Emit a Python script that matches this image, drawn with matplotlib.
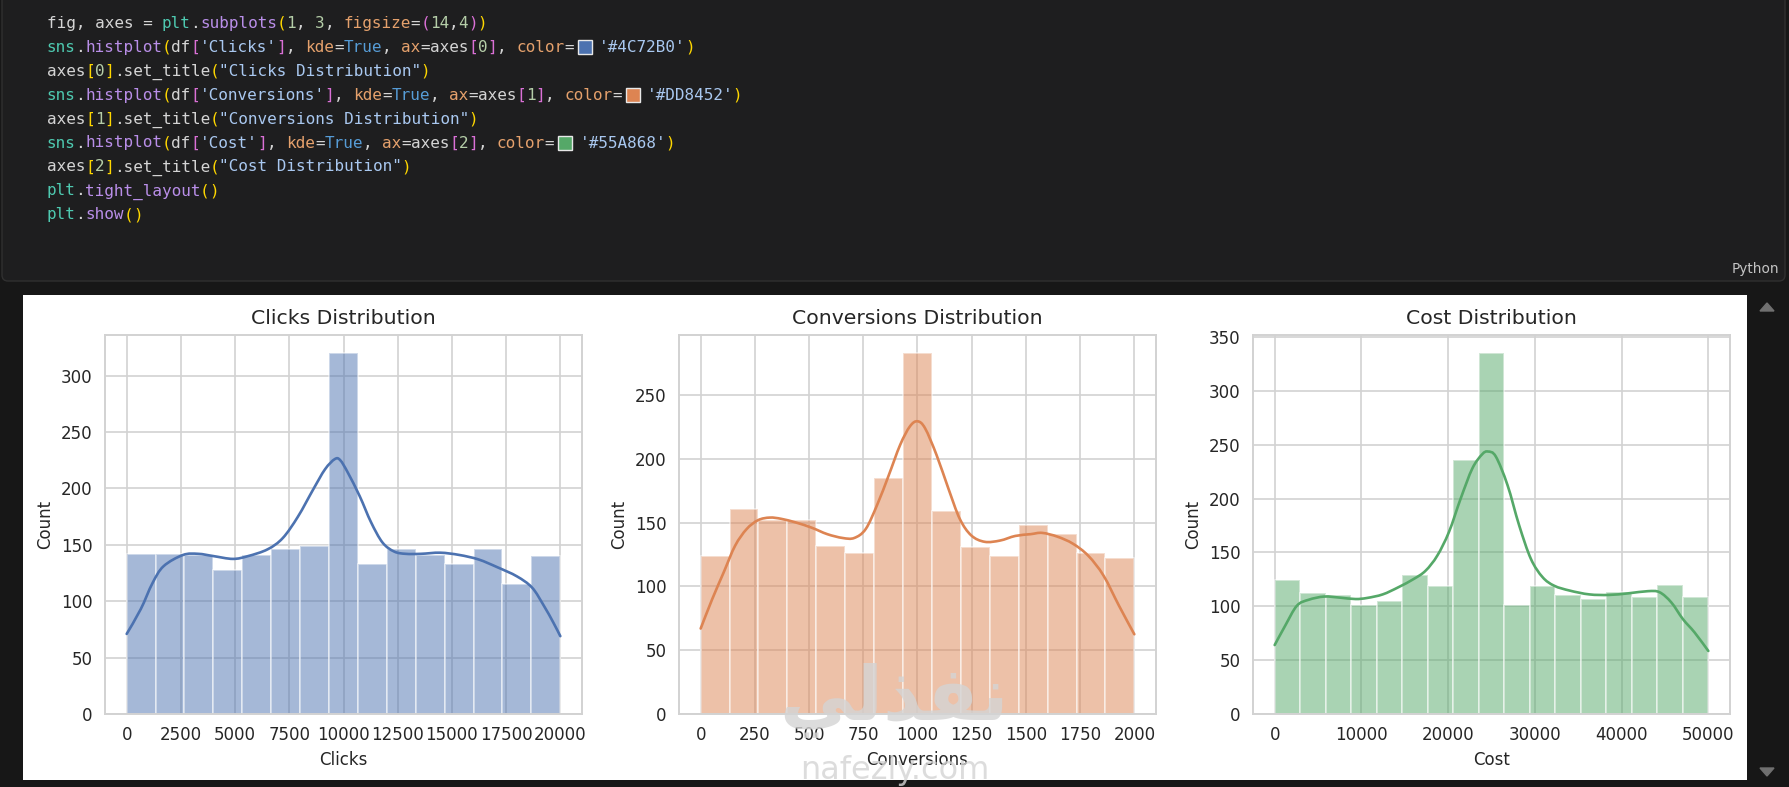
import numpy as np
import matplotlib.pyplot as plt
import matplotlib.patches as mpatches
from matplotlib.path import Path
import seaborn as sns

# ---- dados ----
clicks_range = (0, 20000)
clicks_counts = [142, 142, 141, 128, 141, 146, 149, 320, 133, 146, 141, 133, 146, 115, 140]
clicks_kde_x = [0, 650, 1190, 1700, 2600, 3300, 4000, 4900, 5600, 6500, 7200, 7900, 8600, 9150,
                9600, 9850, 10200, 10750, 11270, 11800, 12340, 12870, 13570, 14460, 15340, 16230,
                17110, 18000, 18700, 19240, 19680, 20000]
clicks_kde_y = [71, 93, 116, 131, 141, 142, 140, 137.5, 140, 146, 156, 175, 199, 217,
                226, 225, 214, 193, 170, 152, 144, 142, 142, 143, 141, 137,
                130, 122, 112, 96, 81, 69]
clicks_xticks = [0, 2500, 5000, 7500, 10000, 12500, 15000, 17500, 20000]
clicks_yticks = [0, 50, 100, 150, 200, 250, 300]

conv_range = (0, 2000)
conv_counts = [124, 161, 152, 152, 132, 126, 185, 283, 159, 131, 124, 148, 141, 126, 122]
conv_kde_x = [0, 53, 106, 159, 212, 265, 319, 372, 442, 513, 584, 655, 708, 761, 814, 867, 920,
              965, 1000, 1035, 1088, 1142, 1195, 1248, 1310, 1381, 1451, 1522, 1575, 1646, 1717,
              1788, 1858, 1929, 2000]
conv_kde_y = [67, 90, 111, 132, 145, 152, 154, 153, 150, 146, 141, 138, 138, 145, 164, 187, 211,
              225.5, 229.5, 224, 203, 177, 153, 140, 135, 136, 139.6, 141, 142, 139, 133.5,
              124, 108.5, 85, 62.5]
conv_xticks = [0, 250, 500, 750, 1000, 1250, 1500, 1750, 2000]
conv_yticks = [0, 50, 100, 150, 200, 250]

cost_range = (0, 50000)
cost_counts = [124, 112, 110, 101, 105, 129, 119, 236, 335, 101, 119, 110, 107, 113, 109, 120, 109]
cost_kde_x = [0, 1214, 2563, 3912, 5710, 7509, 9307, 10656, 12455, 14253, 16052, 17401, 18750,
              20099, 21448, 22797, 23921, 24595, 25494, 26843, 28192, 29541, 30890, 32239, 34038,
              36286, 38534, 40782, 43030, 44380, 45728, 47077, 48426, 50000]
cost_kde_y = [64, 82, 100.5, 106, 109, 108, 106.7, 107.7, 111, 117.6, 125.4, 133, 147,
              169, 200, 228, 241, 243.6, 239, 212.5, 175, 144, 127, 119, 114.5,
              111, 110.5, 112, 114, 113, 103.6, 88, 75.6, 58.5]
cost_xticks = [0, 10000, 20000, 30000, 40000, 50000]
cost_yticks = [0, 50, 100, 150, 200, 250, 300, 350]

titles = ["Clicks Distribution", "Conversions Distribution", "Cost Distribution"]
xlabels = ["Clicks", "Conversions", "Cost"]
cores = ['#4C72B0', '#DD8452', '#55A868']

# ---- cores do editor ----
VAR = '#d4d4d4'
MOD = '#4ec9b0'
FUNC = '#b98ee8'
NUM = '#b5cea8'
KW = '#e5a16c'
BOOL = '#569cd6'
STR = '#a9c8f0'
Y1 = '#ffd700'
P2 = '#da70d6'

codigo = [
    [("fig, axes = ", VAR), ("plt", MOD), (".", VAR), ("subplots", FUNC), ("(", Y1), ("1", NUM),
     (", ", VAR), ("3", NUM), (", ", VAR), ("figsize", KW), ("=", VAR), ("(", P2), ("14", NUM),
     (",", VAR), ("4", NUM), (")", P2), (")", Y1)],
]
for i, (col, tit) in enumerate(zip(xlabels, titles)):
    codigo.append([("sns", MOD), (".", VAR), ("histplot", FUNC), ("(", Y1), ("df", VAR), ("[", P2),
                   ("'" + col + "'", STR), ("]", P2), (", ", VAR), ("kde", KW), ("=", VAR),
                   ("True", BOOL), (", ", VAR), ("ax", KW), ("=", VAR), ("axes", VAR), ("[", P2),
                   (str(i), NUM), ("]", P2), (", ", VAR), ("color", KW), ("=", VAR),
                   ("#SWATCH", cores[i]), ("'" + cores[i] + "'", STR), (")", Y1)])
    codigo.append([("axes", VAR), ("[", Y1), (str(i), NUM), ("]", Y1), (".set_title", VAR),
                   ("(", Y1), ('"' + tit + '"', STR), (")", Y1)])
codigo.append([("plt", MOD), (".", VAR), ("tight_layout", FUNC), ("(", Y1), (")", Y1)])
codigo.append([("plt", MOD), (".", VAR), ("show", FUNC), ("(", Y1), (")", Y1)])


def curva_suave(xs, ys):
    # caminho bezier (catmull-rom) passando pelos pontos lidos
    p = np.column_stack([xs, ys]).astype(float)
    verts = [p[0]]
    codes = [Path.MOVETO]
    n = len(p)
    for k in range(n - 1):
        a = p[max(k - 1, 0)]
        b = p[k]
        c = p[k + 1]
        d = p[min(k + 2, n - 1)]
        verts += [b + (c - a) / 6, c - (d - b) / 6, c]
        codes += [Path.CURVE4] * 3
    return Path(verts, codes)


W, H = 1790, 787
sns.set_style("whitegrid")
plt.rcParams['font.family'] = ['DejaVu Sans']

fig = plt.figure(figsize=(W / 100, H / 100), dpi=100)
fig.patch.set_facecolor('#171717')

# fundo em coordenadas de pixel
bg = fig.add_axes([0, 0, 1, 1], zorder=0)
bg.set_xlim(0, W)
bg.set_ylim(H, 0)
bg.axis('off')
bg.add_patch(mpatches.FancyBboxPatch((2, -20), 1783, 301, boxstyle="round,pad=0,rounding_size=6",
                                     facecolor='#1e1e1f', edgecolor='#303030', linewidth=1))
painel = mpatches.Rectangle((23, 295), 1724, 485, facecolor='white', edgecolor='none')
bg.add_patch(painel)
bg.text(1779, 273, "Python", color='#c4c4c4', fontsize=9.8, ha='right', va='baseline')
bg.add_patch(mpatches.Polygon([[1760, 311], [1774, 311], [1767, 303]], color='#707070'))
bg.add_patch(mpatches.Polygon([[1760, 768], [1774, 768], [1767, 776]], color='#707070'))

# codigo
passo = 9.58
for n, linha in enumerate(codigo):
    yc = 23 + n * 23.9
    x = 46.7
    for txt, cor in linha:
        if txt == "#SWATCH":
            bg.add_patch(mpatches.Rectangle((x + 4, yc - 7), 14, 14, facecolor=cor,
                                            edgecolor='#e8e8e8', linewidth=1))
            x += 25
            continue
        bg.text(x, yc + 5, txt, color=cor, fontsize=11.5, family='DejaVu Sans Mono',
                ha='left', va='baseline')
        x += len(txt) * passo

# ---- graficos ----
posicoes = [105, 679, 1253]
dados = [
    (clicks_range, clicks_counts, clicks_kde_x, clicks_kde_y, clicks_xticks, clicks_yticks),
    (conv_range, conv_counts, conv_kde_x, conv_kde_y, conv_xticks, conv_yticks),
    (cost_range, cost_counts, cost_kde_x, cost_kde_y, cost_xticks, cost_yticks),
]
for i, (rng, counts, kx, ky, xt, yt) in enumerate(dados):
    ax = fig.add_axes([posicoes[i] / W, 1 - 714 / H, 477 / W, 379 / H], zorder=2)
    ax.set_facecolor('white')
    bordas = np.linspace(rng[0], rng[1], len(counts) + 1)
    ax.bar(bordas[:-1], counts, width=np.diff(bordas), align='edge', color=cores[i], alpha=0.5,
           edgecolor='white', linewidth=1.3)
    ax.add_patch(mpatches.PathPatch(curva_suave(kx, ky), fill=False, edgecolor=cores[i],
                                    linewidth=1.9, capstyle='round', zorder=3))
    span = rng[1] - rng[0]
    ax.set_xlim(rng[0] - 0.05 * span, rng[1] + 0.05 * span)
    ax.set_ylim(0, max(counts) * 1.05)
    ax.set_xticks(xt)
    ax.set_yticks(yt)
    ax.tick_params(length=0, pad=9, labelsize=12, colors='#262626')
    ax.grid(True, color='#d2d2d2', linewidth=1.2)
    ax.set_axisbelow(True)
    for s in ax.spines.values():
        s.set_color('#d2d2d2')
        s.set_linewidth(1.4)
    ax.set_title(titles[i], fontsize=14.7, color='#262626', pad=8)
    ax.set_xlabel(xlabels[i], fontsize=12, color='#262626', labelpad=5)
    ax.set_ylabel("Count", fontsize=12, color='#262626', labelpad=5)

# marca d'agua por cima de tudo
topo = fig.add_axes([0, 0, 1, 1], zorder=10)
topo.set_xlim(0, W)
topo.set_ylim(H, 0)
topo.axis('off')
topo.patch.set_alpha(0)
clip = mpatches.Rectangle((23, 295), 1724, 485, transform=topo.transData)
wm1 = topo.text(894, 700, "\uFEF2\uFEDF\uFEAC\uFED4\uFEE7", fontsize=54, fontweight='bold',
                color='#d4d4d4', alpha=0.8, ha='center', va='center')
wm2 = topo.text(895, 770, "nafezly.com", fontsize=23, color='#d4d4d4', alpha=0.8,
                ha='center', va='center')
for wm in (wm1, wm2):
    wm.set_clip_path(clip)

plt.savefig("out.png", dpi=100, facecolor=fig.get_facecolor())
